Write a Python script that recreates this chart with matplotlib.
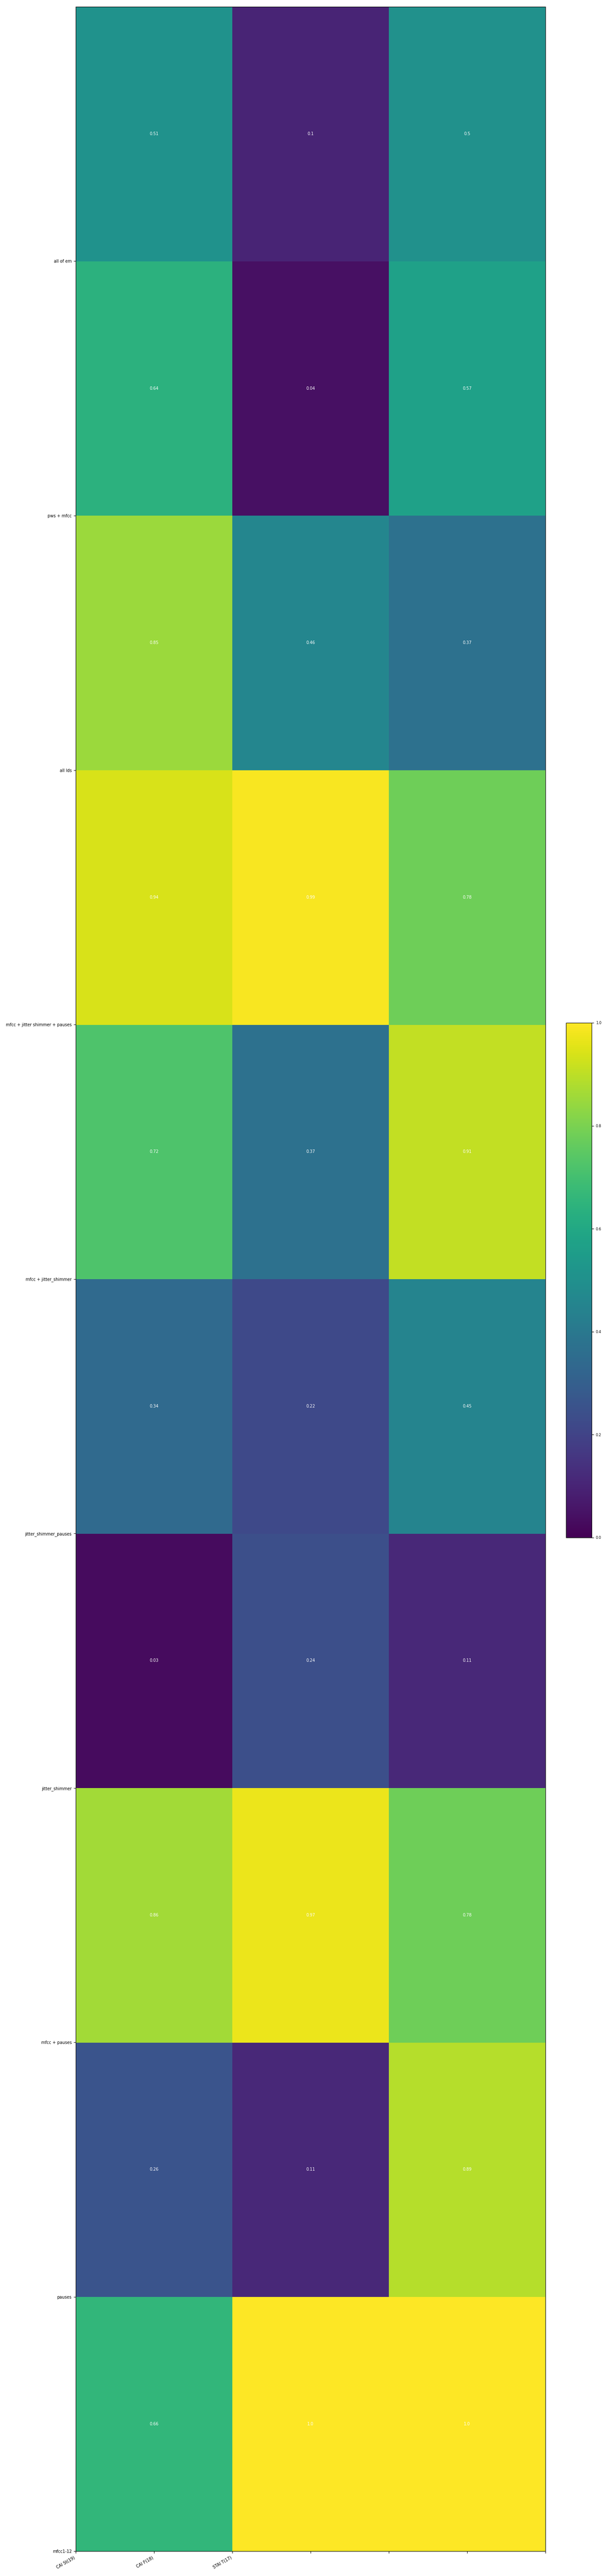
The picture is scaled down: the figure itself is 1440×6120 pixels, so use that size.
import matplotlib
matplotlib.use("Agg")
import matplotlib.pyplot as plt
import numpy as np

# feature sets, bottom row first (y axis not inverted)
feature_sets = ["mfcc1-12", "pauses", "mfcc + pauses", "jitter_shimmer",
                "jitter_shimmer_pauses", "mfcc + jitter_shimmer",
                "mfcc + jitter shimmer + pauses", "all lds", "pws + mfcc",
                "all of em"]
targets = ["CAI St(19)", "CAI F(18)", "STAI T(17)"]

# scores per feature set, same order as feature_sets
cai_st = [0.66, 0.26, 0.86, 0.03, 0.34, 0.72, 0.94, 0.85, 0.64, 0.51]
cai_f = [1.0, 0.11, 0.97, 0.24, 0.22, 0.37, 0.99, 0.46, 0.04, 0.1]
stai_t = [1.0, 0.89, 0.78, 0.11, 0.45, 0.91, 0.78, 0.37, 0.57, 0.5]

scores = np.array([cai_st, cai_f, stai_t]).T

fig = plt.figure(figsize=(14.4, 61.2), dpi=100)
ax = fig.add_axes([0.125, 0.0096, 0.775, 0.9878])

mesh = ax.pcolor(scores, cmap="viridis", vmin=0, vmax=1)

for i in range(scores.shape[0]):
    for j in range(scores.shape[1]):
        ax.text(j + 0.5, i + 0.5, str(round(scores[i, j], 2)),
                ha="center", va="center", color="w", fontsize=7)

# labels land on the cell edges, like in the original
ax.set_yticks(np.arange(len(feature_sets)))
ax.set_yticklabels(feature_sets, fontsize=7)
xt = np.arange(0, 3.01, 0.5)
ax.set_xticks(xt)
ax.set_xticklabels(targets + [""] * (len(xt) - len(targets)), fontsize=7,
                   rotation=30, ha="right")

cax = fig.add_axes([1345 / 1440, 1 - 3653 / 6120, 61 / 1440, 1223 / 6120])
cb = fig.colorbar(mesh, cax=cax)
cb.ax.tick_params(labelsize=6)

fig.savefig("out.png", dpi=100)
